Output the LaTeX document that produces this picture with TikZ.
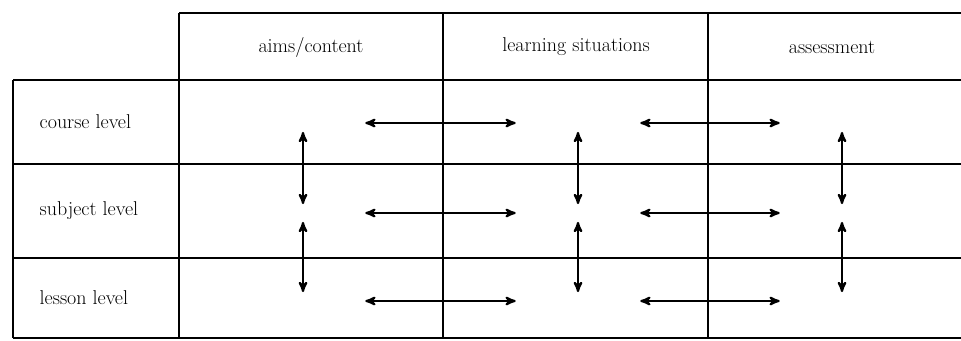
\documentclass[tikz,border=0pt]{standalone}
\usetikzlibrary{arrows}

\begin{document}
\begin{tikzpicture}[x=0.75pt,y=-0.75pt,>=stealth',
  font=\fontsize{15}{18}\selectfont,
  grid/.style={line width=0.9pt},
  hub/.style={inner sep=0pt,minimum width=93pt,minimum height=13pt},
  link/.style={<->,line width=1.6pt}]
  \useasboundingbox (0,0) rectangle (961,340);

  % the table
  \draw[grid] (179,13) -- (961,13);
  \foreach \y in {80,164,258,338}
    \draw[grid] (13,\y) -- (961,\y);
  \draw[grid] (13,80) -- (13,338);
  \foreach \x in {179,443,708}
    \draw[grid] (\x,13) -- (\x,338);

  \node (aims)   at (311,47) {aims/content};
  \node (learn)  at (576,47) {learning situations};
  \node (assess) at (832,47) {assessment};

  \node[anchor=west] (course)  at (35,122) {course level};
  \node[anchor=west] (subject) at (35,211) {subject level};
  \node[anchor=west] (lesson)  at (35,298) {lesson level};

  % one hub per cell, arrows run between them
  \foreach \r/\y in {1/123,2/213,3/301} {
    \node[hub] (a\r) at (303,\y) {};
    \node[hub] (l\r) at (578,\y) {};
    \node[hub] (s\r) at (842,\y) {};
  }

  \path[link]
  (a1) edge (l1)
  (l1) edge (s1)
  (a2) edge (l2)
  (l2) edge (s2)
  (a3) edge (l3)
  (l3) edge (s3)
  (a1) edge (a2)
  (a2) edge (a3)
  (l1) edge (l2)
  (l2) edge (l3)
  (s1) edge (s2)
  (s2) edge (s3)
  ;
\end{tikzpicture}
\end{document}
